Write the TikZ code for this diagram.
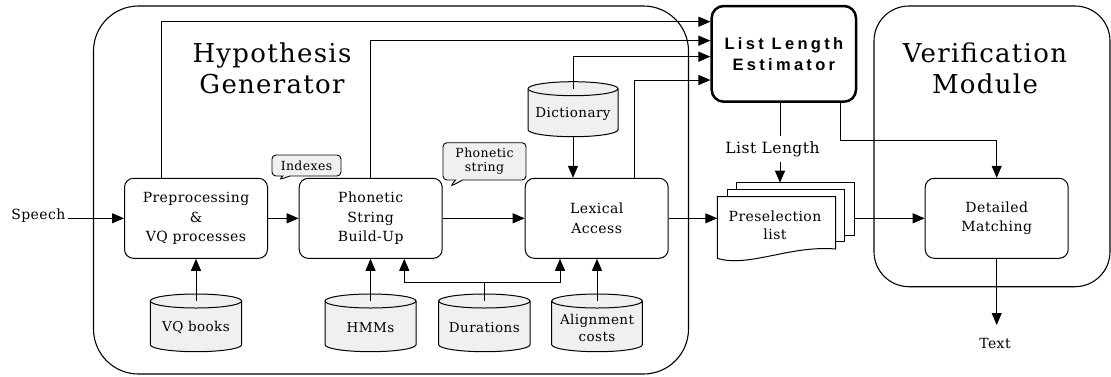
\documentclass[tikz,border=0pt]{standalone}
\usepackage{fontspec}
\setmainfont{DejaVu Serif}
\newfontfamily\labfont{DejaVu Serif}[LetterSpace=3]
\newfontfamily\titlefont{DejaVu Serif}[LetterSpace=5]
\newfontfamily\llefont{Liberation Sans}[LetterSpace=20]
\usetikzlibrary{arrows.meta,shapes.callouts,calc}
\begin{document}
\begin{tikzpicture}[x=1pt,y=1pt,
  line width=1pt,
  arr/.style={-{Triangle[length=12pt,width=10pt]}},
  proc/.style={draw, rounded corners=9pt, minimum width=143pt, minimum height=80pt, inner sep=0pt, align=center, font=\labfont\fontsize{14}{19.3}\selectfont},
  lab/.style={font=\labfont\fontsize{14}{16}\selectfont, inner sep=2pt},
  cyllab/.style={font=\labfont\fontsize{13.5}{16.4}\selectfont, align=center, inner sep=0pt},
  bubble/.style={rectangle callout, draw, line width=0.9pt, fill=gray!12, rounded corners=4pt, inner sep=1pt, align=center, font=\labfont\fontsize{12.5}{14.3}\selectfont},
  ttl/.style={font=\titlefont\fontsize{26}{31.5}\selectfont, align=center, inner sep=0pt},
  cylfill/.style={fill=gray!12, draw, line width=1pt},
  group/.style={draw, line width=1.1pt},
]
\useasboundingbox (0,0) rectangle (1111,-376);

% group frames
\draw[group, rounded corners=45pt] (93.5,-6) rectangle (688.5,-374);
\draw[group, rounded corners=35pt] (874,-6) rectangle (1110,-286.7);

% titles
\node[ttl] (hgt) at (272,-68.5) {Hypothesis\\Generator};
\node[ttl] (vmt) at (985,-68.3) {Verification\\Module};

% process boxes
\node[proc] (pre) at (196,-218.3) {Preprocessing\\\&\\VQ processes};
\node[proc] (phon) at (370.7,-218.3) {Phonetic\\String\\Build-Up};
\node[proc] (lex) at (596.7,-218.3) {Lexical\\Access};
\node[proc] (det) at (996.7,-218.3) {Detailed\\Matching};

% list length estimator
\node[draw, line width=2.5pt, rounded corners=12pt, minimum width=144.3pt, minimum height=95.7pt, inner sep=0pt, align=center, font=\llefont\bfseries\fontsize{16.5}{20.7}\selectfont] (lle) at (783.85,-53.85) {List Length\\Estimator};

% cylinders
\foreach \n/\xa/\xb/\ya/\yb/\t in {vq/150.3/241.7/294/351.7/{VQ books}, hmm/325/416/294/351.7/{HMMs}, dur/438.7/530/294/351.7/{Durations}, ali/551.7/642.3/294/351.7/{Alignment\\costs}, dict/528/618/81.7/136.7/{Dictionary}}{
  \pgfmathsetmacro\rx{(\xb-\xa)/2}
  \pgfmathsetmacro\cx{(\xa+\xb)/2}
  \filldraw[cylfill] (\xa,{-\ya-7}) -- (\xa,{-\yb+7}) arc[start angle=180,end angle=360,x radius=\rx,y radius=7] -- (\xb,{-\ya-7}) arc[start angle=0,end angle=180,x radius=\rx,y radius=7] -- cycle;
  \draw (\xa,{-\ya-7}) arc[start angle=180,end angle=360,x radius=\rx,y radius=7];
  \node[minimum width={(\xb-\xa)*1pt}, minimum height={(\yb-\ya)*1pt}, inner sep=0pt, outer sep=0pt] (\n) at (\cx,{-(\ya+\yb)/2}) {};
  \coordinate (\n-top) at (\cx,{-\ya-7});
  \node[cyllab] (\n-label) at (\cx,{-(\ya+\yb)/2-5}) {\t};
}

% preselection list (document stack)
\node[minimum width=137pt, minimum height=79.6pt, inner sep=0pt, outer sep=0pt] (psl) at (785.8,-222.5) {};
\filldraw[fill=white] (736.7,-182.7) rectangle (854.3,-235.7);
\filldraw[fill=white] (727.3,-189) rectangle (844.3,-241.7);
\filldraw[fill=white] (717.3,-196.7) -- (835.7,-196.7) -- (835.7,-249)
  .. controls (790,-245) and (748,-268) .. (717.3,-258.3) -- cycle;
\node[lab, align=center, font=\labfont\fontsize{14}{18.3}\selectfont] (psltext) at (775,-225) {Preselection\\list};

% speech bubbles
\node[bubble, minimum width=69pt, minimum height=21pt, callout absolute pointer={(278.6,-180)}] (idx) at (306.5,-165.5) {Indexes};
\node[bubble, minimum width=83pt, minimum height=37.3pt, callout absolute pointer={(450,-186.7)}] (pstr) at (484.5,-161.35) {Phonetic\\string};

% input / output labels
\node[lab] (sp) at (38.3,-215.7) {Speech};
\node[lab, anchor=north, inner xsep=2pt, inner ysep=13pt] (txt) at (995,-325) {Text};

% main flow
\draw[arr] (sp.east |- pre.west) -- (pre.west);
\draw[arr] (pre.east) -- (phon.west);
\draw[arr] (phon.east) -- (lex.west);
\draw[arr] (lex.east) -- (lex.east -| psl.west);
\draw[arr] (psl.east |- det.west) -- (det.west);
\draw[arr] (det.south) -- (det.south |- txt.north);

% knowledge sources
\draw[arr] (vq-top) -- (vq-top |- pre.south);
\draw[arr] (hmm-top) -- (hmm-top |- phon.south);
\draw[arr] (ali-top) -- (ali-top |- lex.south);
\draw[arr] (dict.south) -- (dict.south |- lex.north);
\draw (dur-top) -- ++(0,18.3) coordinate (dj);
\draw[arr] (dj) -| ([xshift=33.6pt]phon.south);
\draw[arr] (dj) -| ([xshift=-36.7pt]lex.south);

% inputs to the list length estimator
\draw[arr] ([xshift=-35pt]pre.north) |- ([yshift=32.15pt]lle.west);
\draw[arr] (phon.north) |- ([yshift=13.15pt]lle.west);
\draw[arr] (dict-top) |- ([yshift=-2.85pt]lle.west);
\draw[arr] ([xshift=38pt]lex.north) |- ([yshift=-26.15pt]lle.west);

% outputs of the list length estimator
\coordinate (llx) at ([xshift=-3.85pt]lle.south);
\draw[arr] (llx) -- (llx |- psl.north);
\node[lab, fill=white, inner xsep=1pt, inner ysep=5pt, font=\labfont\fontsize{15.5}{16}\selectfont] (llen) at (772.5,-149) {List Length};
\draw[arr] ([xshift=56.85pt]lle.south) -- ++(0,-38) -| (det.north);
\end{tikzpicture}
\end{document}
